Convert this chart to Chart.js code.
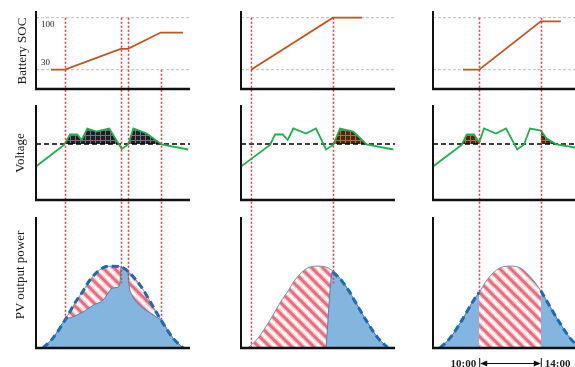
<!DOCTYPE html>
<html>
<head>
<meta charset="utf-8">
<title>PV curtailment, voltage and battery SOC</title>
<script src="https://cdn.jsdelivr.net/npm/chart.js"></script>
<style>
  html, body { margin: 0; padding: 0; background: #fff; }
  #wrap { position: relative; width: 575px; height: 367px; overflow: hidden; font-family: "Liberation Serif", "DejaVu Serif", serif; }
  #wrap canvas { position: absolute; left: 0; top: 0; }
  .ytitle { position: absolute; font-size: 13px; color: #1a1a1a; white-space: nowrap; transform: translate(-50%, -50%) rotate(-90deg); }
</style>
</head>
<body>
<div id="wrap">
  <canvas id="col1" width="575" height="367"></canvas>
  <canvas id="col2" width="575" height="367"></canvas>
  <canvas id="col3" width="575" height="367"></canvas>
  <div class="ytitle" style="left:22px; top:51px;">Battery SOC</div>
  <div class="ytitle" style="left:20px; top:153px;">Voltage</div>
  <div class="ytitle" style="left:20px; top:275px;">PV output power</div>
</div>
<script>
// x values are hours of the day

// Battery SOC (%)
const socTicks = [30, 100];
const socHours1 = [7.97, 8.88, 12.5, 12.97, 15.1, 16.55];
const socLevel1 = [30, 30, 58, 58, 80, 80];
const socHours2 = [7.65, 12.97, 14.86];
const socLevel2 = [30, 100, 100];
const socHours3 = [8.95, 10, 14, 15.3];
const socLevel3 = [30, 30, 95, 95];

// Voltage (p.u.)
const voltRef = 1.0;
const voltHours1 = [7.0, 8.82, 9.21, 9.68, 9.97, 10.33, 10.94, 11.76, 12.41, 12.56, 12.99, 13.32, 14.19, 15.16, 16.89];
const volt1 = [0.955, 0.998, 1.019, 1.019, 1.008, 1.031, 1.025, 1.031, 0.998, 0.990, 0.999, 1.031, 1.021, 0.999, 0.989];
const voltHours2 = [7.0, 8.88, 9.21, 9.71, 10.03, 10.4, 11.22, 11.87, 12.52, 12.99, 13.43, 14.29, 15.16, 16.89];
const volt2 = [0.955, 0.998, 1.019, 1.019, 1.008, 1.031, 1.021, 1.031, 0.989, 0.998, 1.031, 1.025, 0.999, 0.989];
const voltHours3 = [7.0, 8.86, 9.19, 9.66, 10.0, 10.31, 11.09, 11.74, 12.47, 12.91, 13.3, 14.0, 14.38, 15.03, 16.22];
const volt3 = [0.955, 0.998, 1.019, 1.019, 1.003, 1.031, 1.021, 1.031, 0.989, 0.999, 1.031, 1.027, 1.011, 0.999, 0.993];
// hour windows where over-voltage is shaded
const voltFill1 = [[7, 17]];
const voltFill2 = [[12.99, 17]];
const voltFill3 = [[7, 10], [14, 17]];

// PV output (relative to forecast peak)
const pvHours = [7.45, 8.1, 8.88, 9.66, 10.0, 10.5, 11.35, 12.0, 12.65, 13.5, 14.0, 14.34, 15.12, 15.9, 16.55];
const pvForecast = [0, 0.12, 0.34, 0.59, 0.68, 0.83, 0.98, 1.0, 0.98, 0.83, 0.70, 0.59, 0.34, 0.12, 0];
const pvHours1 = [7.45, 8.1, 8.88, 9.4, 10.05, 10.7, 11.35, 11.68, 11.94, 12.26, 12.45, 12.52, 12.97, 13.04, 13.23, 13.75, 14.4, 15.05, 15.12, 15.9, 16.55];
const pvActual1 = [0, 0.12, 0.34, 0.38, 0.44, 0.52, 0.585, 0.67, 0.73, 0.74, 0.79, 0.985, 0.95, 0.77, 0.65, 0.52, 0.43, 0.35, 0.34, 0.12, 0];
const pvHours2 = [12.52, 12.95, 13.5, 14.0, 14.34, 15.12, 15.9, 16.55];
const pvActual2 = [0, 0.94, 0.83, 0.70, 0.59, 0.34, 0.12, 0];
const pvKeep3 = [[7, 10], [14, 17]];          // column 3 keeps the forecast outside 10:00-14:00
const dashKeep1 = [[7, 17]];
const dashKeep2 = [[12.95, 17]];
const dashKeep3 = [[7, 10], [14, 17]];

// red dotted event lines: hour, from SOC level, down to PV level
const markHours1 = [8.88, 12.52, 12.97, 15.1];
const markFrom1 = [100, 100, 100, 30];
const markTo1 = [0.34, 0.79, 0.80, 0.34];
const markHours2 = [7.65, 12.97];
const markFrom2 = [100, 100];
const markTo2 = [0, 0.79];
const markHours3 = [10, 14];
const markFrom3 = [100, 100];
const markTo3 = [0.68, 0.70];

const timeHours = [10, 14];
const timeLabels = ['10:00', '14:00'];

// panel value ranges
const socLimits = [4, 109];
const voltLimits = [0.888, 1.078];
const pvLimits = [0, 1.6];

// ---- layout ----
const AREA = [11, 348];                       // chart area top/bottom (px)
const BANDS = { soc: [11, 89], volt: [105, 200], pv: [217, 348] };

function fitScale(lim, band) {
  const k = (band[1] - band[0]) / (lim[1] - lim[0]);
  return { min: lim[0] - (AREA[1] - band[1]) / k, max: lim[1] + (band[0] - AREA[0]) / k };
}

function pts(xs, ys) { return xs.map((x, i) => ({ x: x, y: ys[i] })); }

function clip(xs, ys, a, b) {
  const out = [];
  const at = (i, v) => ys[i - 1] + (ys[i] - ys[i - 1]) * (v - xs[i - 1]) / (xs[i] - xs[i - 1]);
  for (let i = 0; i < xs.length; i++) {
    if (i > 0) {
      if (xs[i - 1] < a && xs[i] > a) out.push({ x: a, y: at(i, a) });
      if (xs[i - 1] < b && xs[i] > b) out.push({ x: b, y: at(i, b) });
    }
    if (xs[i] >= a && xs[i] <= b) out.push({ x: xs[i], y: ys[i] });
  }
  return out;
}

function stripePattern() {
  const s = 11, c = document.createElement('canvas');
  c.width = c.height = s;
  const g = c.getContext('2d');
  g.fillStyle = '#fff';
  g.fillRect(0, 0, s, s);
  [[6, 'rgba(245,170,178,0.55)'], [3, 'rgba(232,92,108,0.85)']].forEach(([w, col]) => {
    g.strokeStyle = col; g.lineWidth = w;
    g.beginPath();
    [-s, 0, s].forEach(o => { g.moveTo(-1, o - 1); g.lineTo(s + 1, o + s + 1); });
    g.stroke();
  });
  return g.createPattern(c, 'repeat');
}

function plaidPattern(base, light) {
  const s = 5, c = document.createElement('canvas');
  c.width = c.height = s;
  const g = c.getContext('2d');
  g.fillStyle = base; g.fillRect(0, 0, s, s);
  g.fillStyle = light; g.fillRect(0, 0, s, 1); g.fillRect(0, 0, 1, s);
  return g.createPattern(c, 'repeat');
}

const stripes = stripePattern();
const plaidDark = plaidPattern('#211d26', '#77717f');
const plaidBrown = plaidPattern('#4e260c', '#a8743f');

const columns = [
  { id: 'col1', axisX: 36, xMax: 17, width: 154,
    socH: socHours1, soc: socLevel1, vH: voltHours1, v: volt1, vFill: voltFill1, plaid: plaidDark,
    actual: [pts(pvHours1, pvActual1)], dash: dashKeep1,
    mH: markHours1, mFrom: markFrom1, mTo: markTo1, socLabels: true },
  { id: 'col2', axisX: 241, xMax: 17, width: 154,
    socH: socHours2, soc: socLevel2, vH: voltHours2, v: volt2, vFill: voltFill2, plaid: plaidBrown,
    actual: [pts(pvHours2, pvActual2)], dash: dashKeep2,
    mH: markHours2, mFrom: markFrom2, mTo: markTo2 },
  { id: 'col3', axisX: 433, xMax: 16.22, width: 142,
    socH: socHours3, soc: socLevel3, vH: voltHours3, v: volt3, vFill: voltFill3, plaid: plaidBrown,
    actual: pvKeep3.map(w => clip(pvHours, pvForecast, w[0], w[1])), dash: dashKeep3,
    mH: markHours3, mFrom: markFrom3, mTo: markTo3, times: true }
];

function panelPlugin(col) {
  return {
    id: 'panels',
    afterDatasetsDraw(chart) {
      const ctx = chart.ctx, sx = chart.scales.x;
      const ss = chart.scales.soc, sv = chart.scales.volt, sp = chart.scales.pv;
      const left = chart.chartArea.left, right = chart.chartArea.right;
      ctx.save();

      // event lines
      ctx.strokeStyle = '#f2333a';
      ctx.lineWidth = 1.5;
      ctx.setLineDash([2, 2]);
      col.mH.forEach((h, i) => {
        const px = Math.round(sx.getPixelForValue(h)) + 0.5;
        ctx.beginPath();
        ctx.moveTo(px, ss.getPixelForValue(col.mFrom[i]));
        ctx.lineTo(px, sp.getPixelForValue(col.mTo[i]));
        ctx.stroke();
      });
      ctx.setLineDash([]);

      // axes of the three panels
      ctx.strokeStyle = '#111';
      [[ss, socLimits], [sv, voltLimits], [sp, pvLimits]].forEach(([s, lim]) => {
        const top = s.getPixelForValue(lim[1]), bot = s.getPixelForValue(lim[0]);
        ctx.lineWidth = 2;
        ctx.beginPath(); ctx.moveTo(left, top); ctx.lineTo(left, bot); ctx.stroke();
        ctx.lineWidth = 2.5;
        ctx.beginPath(); ctx.moveTo(left - 1, bot); ctx.lineTo(right, bot); ctx.stroke();
      });

      ctx.fillStyle = '#222';
      if (col.socLabels) {
        ctx.font = '9px "Liberation Serif", serif';
        ctx.textAlign = 'left';
        ctx.textBaseline = 'middle';
        socTicks.forEach(t => {
          const y = ss.getPixelForValue(t) + (t === 100 ? 7 : -7);
          ctx.fillText(String(t), left + 5, y);
        });
      }

      if (col.times) {
        const y = 363;
        const a = sx.getPixelForValue(timeHours[0]), b = sx.getPixelForValue(timeHours[1]);
        ctx.font = 'bold 11px "Liberation Serif", serif';
        ctx.textBaseline = 'middle';
        ctx.textAlign = 'right'; ctx.fillText(timeLabels[0], a - 3, y + 1);
        ctx.textAlign = 'left'; ctx.fillText(timeLabels[1], b + 4, y + 1);
        ctx.strokeStyle = '#111'; ctx.fillStyle = '#111'; ctx.lineWidth = 1;
        ctx.beginPath();
        ctx.moveTo(a + 0.5, y - 5); ctx.lineTo(a + 0.5, y + 5);
        ctx.moveTo(b + 0.5, y - 5); ctx.lineTo(b + 0.5, y + 5);
        ctx.moveTo(a + 2, y + 0.5); ctx.lineTo(b - 1, y + 0.5);
        ctx.stroke();
        ctx.beginPath();
        ctx.moveTo(a + 1, y + 0.5); ctx.lineTo(a + 8, y - 2.5); ctx.lineTo(a + 8, y + 3.5); ctx.closePath();
        ctx.moveTo(b, y + 0.5); ctx.lineTo(b - 7, y - 2.5); ctx.lineTo(b - 7, y + 3.5); ctx.closePath();
        ctx.fill();
      }
      ctx.restore();
    }
  };
}

function buildChart(col) {
  const layers = [];   // bottom to top
  const base = { pointRadius: 0, tension: 0, fill: false };

  // PV: curtailed energy hatched under the forecast, actual output in blue
  layers.push({ ...base, yAxisID: 'pv', data: pts(pvHours, pvForecast), cubicInterpolationMode: 'monotone',
    borderColor: '#6f92b8', borderWidth: 1, fill: 'origin', backgroundColor: stripes });
  col.actual.forEach(d => layers.push({ ...base, yAxisID: 'pv', data: d, cubicInterpolationMode: 'monotone',
    borderColor: '#5b7fa3', borderWidth: 1, fill: 'origin', backgroundColor: '#83b5de' }));
  col.dash.forEach(w => layers.push({ ...base, yAxisID: 'pv', data: clip(pvHours, pvForecast, w[0], w[1]),
    cubicInterpolationMode: 'monotone', borderColor: '#1b6cb6', borderWidth: 3, borderDash: [7, 4] }));

  // reference lines
  socTicks.forEach(t => layers.push({ ...base, yAxisID: 'soc', data: [{ x: 7, y: t }, { x: col.xMax, y: t }],
    borderColor: '#bdbdbd', borderWidth: 1, borderDash: [3, 2] }));

  // voltage shading + line
  col.vFill.forEach(w => layers.push({ ...base, yAxisID: 'volt', data: clip(col.vH, col.v, w[0], w[1]),
    borderWidth: 0, borderColor: 'rgba(0,0,0,0)',
    fill: { target: { value: voltRef }, above: col.plaid, below: 'rgba(0,0,0,0)' } }));
  layers.push({ ...base, yAxisID: 'volt', data: [{ x: 7, y: voltRef }, { x: col.xMax, y: voltRef }],
    borderColor: '#000', borderWidth: 1.5, borderDash: [5, 3] });
  layers.push({ ...base, yAxisID: 'volt', data: pts(col.vH, col.v), borderColor: '#1fb04f', borderWidth: 1.8 });

  // SOC
  layers.push({ ...base, yAxisID: 'soc', data: pts(col.socH, col.soc), borderColor: '#c0561d', borderWidth: 1.8 });

  layers.forEach((d, i) => { d.order = layers.length - i; });

  const hidden = (lim, band) => ({ type: 'linear', display: false, ...fitScale(lim, band) });

  return new Chart(document.getElementById(col.id), {
    type: 'line',
    data: { datasets: layers },
    options: {
      responsive: false,
      animation: false,
      events: [],
      layout: { padding: { left: col.axisX, top: AREA[0], bottom: 367 - AREA[1], right: 575 - col.axisX - col.width } },
      plugins: { legend: { display: false }, tooltip: { enabled: false } },
      scales: {
        x: { type: 'linear', display: false, min: 7, max: col.xMax },
        soc: hidden(socLimits, BANDS.soc),
        volt: hidden(voltLimits, BANDS.volt),
        pv: hidden(pvLimits, BANDS.pv)
      }
    },
    plugins: [panelPlugin(col)]
  });
}

columns.forEach(buildChart);
</script>
</body>
</html>
